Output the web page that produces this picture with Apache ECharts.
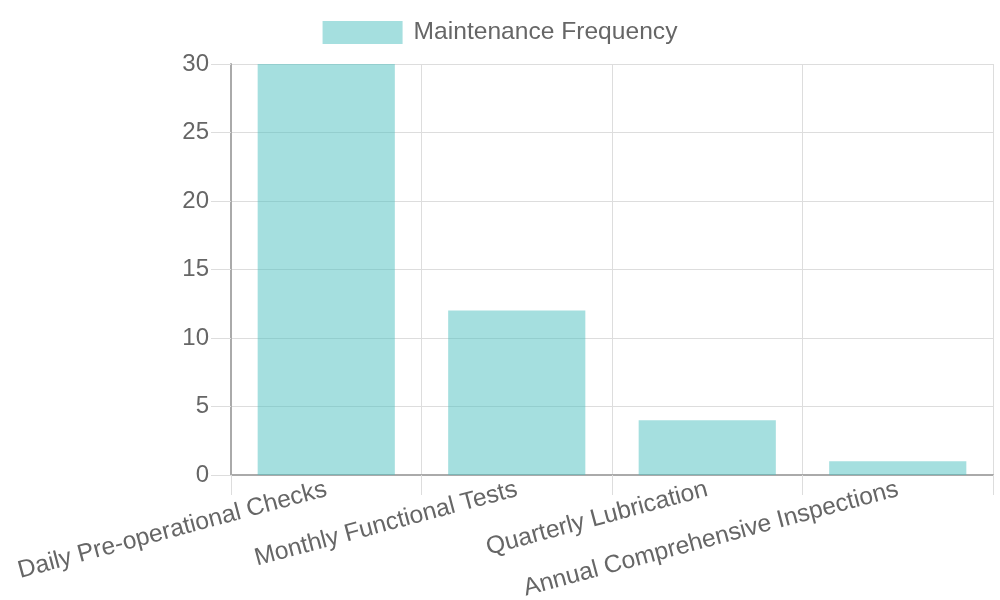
<!DOCTYPE html>
<html>
<head>
<meta charset="utf-8">
<script src="https://cdn.jsdelivr.net/npm/echarts@6/dist/echarts.min.js"></script>
<style>
  html, body { margin: 0; padding: 0; background: #fff; }
  #chart { width: 1000px; height: 600px; }
</style>
</head>
<body>
<div id="chart"></div>
<script>
  // data
  const categories = ['Daily Pre-operational Checks', 'Monthly Functional Tests', 'Quarterly Lubrication', 'Annual Comprehensive Inspections'];
  const frequency = [30, 12, 4, 1];
  const seriesName = 'Maintenance Frequency';

  const font = '"Liberation Sans", Arial, sans-serif';
  const chart = echarts.init(document.getElementById('chart'));

  const option = {
    animation: false,
    textStyle: { fontFamily: font },
    legend: {
      top: 15,
      left: 'center',
      itemWidth: 80,
      itemHeight: 23,
      icon: 'rect',
      data: [seriesName],
      textStyle: { fontSize: 24.6, color: '#666', fontFamily: font, padding: [0, 0, 0, 6] }
    },
    grid: { left: 231, right: 7, top: 64, bottom: 125, outerBoundsMode: 'none', containLabel: false },
    xAxis: {
      type: 'category',
      data: categories,
      boundaryGap: true,
      axisLine: { lineStyle: { color: '#aaa', width: 2 } },
      axisTick: { show: true, alignWithLabel: false, length: 20, lineStyle: { color: '#ddd' } },
      splitLine: { show: true, lineStyle: { color: '#ddd' } },
      axisLabel: { rotate: 15, interval: 0, margin: 14, fontSize: 24.6, color: '#666', fontFamily: font }
    },
    yAxis: {
      type: 'value',
      min: 0,
      max: 30,
      interval: 5,
      axisLine: { show: true, lineStyle: { color: '#aaa', width: 2 } },
      axisTick: { show: true, length: 20, lineStyle: { color: '#ddd' } },
      splitLine: { lineStyle: { color: '#ddd' } },
      axisLabel: { margin: 22, fontSize: 24, color: '#666', fontFamily: font }
    },
    series: [{
      name: seriesName,
      type: 'bar',
      data: frequency,
      barCategoryGap: '28%',
      itemStyle: { color: 'rgba(75,192,192,0.5)' }
    }]
  };

  chart.setOption(option);
</script>
</body>
</html>
